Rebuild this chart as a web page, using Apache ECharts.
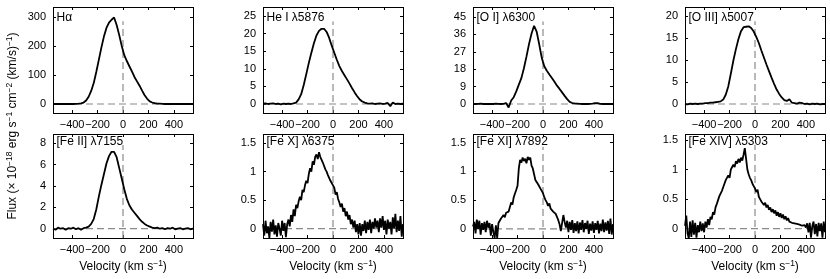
<!DOCTYPE html>
<html>
<head>
<meta charset="utf-8">
<script src="https://cdn.jsdelivr.net/npm/echarts@6/dist/echarts.min.js"></script>
<style>
html,body{margin:0;padding:0;background:#fff;}
#c{width:830px;height:279px;}
</style>
</head>
<body>
<div id="c"></div>
<script>
// ---------- data ----------
const velS = [-550,-530,-510,-490,-470,-450,-430,-410,-390,-370,-350,-330,-310,-290,-270,-250,-230,-210,-190,-170,-150,-130,-110,-90,-70,-50,-30,-10,10,30,50,70,90,110,130,150,170,190,210,230,250,270,290,310,330,350,370,390,410,430,450,470,490,510,530,550];
const velN = [-550,-540,-530,-520,-510,-500,-490,-480,-470,-460,-450,-440,-430,-420,-410,-400,-390,-380,-370,-360,-350,-340,-330,-320,-310,-300,-290,-280,-270,-260,-250,-240,-230,-220,-210,-200,-190,-180,-170,-160,-150,-140,-130,-120,-110,-100,-90,-80,-70,-60,-50,-40,-30,-20,-10,0,10,20,30,40,50,60,70,80,90,100,110,120,130,140,150,160,170,180,190,200,210,220,230,240,250,260,270,280,290,300,310,320,330,340,350,360,370,380,390,400,410,420,430,440,450,460,470,480,490,500,510,520,530,540,550];

const haFlux = [0,0,0,0,0,0,0,0,0,0.5,1,2,5,12,25,45,72,110,152,194,232,262,280,290,298,272,238,200,168,148,130,112,93,78,63,46,30,18,9,5,3,1.5,1,0.5,0,0,0,0,0,0,0,0,0,0,0,0];
const heIFlux = [0.1,0.2,0.0,0.1,0.2,0.0,0.1,-0.1,0.1,0.0,0.1,0.0,0.2,0.4,1.3,2.8,5.4,8.5,11.7,14.6,17.3,19.5,20.8,21.4,21.4,20.5,18.8,16.6,14.6,12.6,10.8,9.4,8.2,7.0,5.8,4.5,3.3,2.2,1.3,0.7,0.4,0.2,0.1,0.2,0.0,0.1,0.2,0.0,0.1,0.3,-0.6,0.4,0.0,0.1,0.0,0.1];
const oIFlux = [0.1,0,0.1,0.2,0,0.1,0,0.1,0,0.2,0.1,0,0.1,0.5,-1.8,1.8,3.5,6.5,10,13.4,18.5,24.5,31,36.5,40.5,37.5,31,24,19.5,17.2,15.3,13.5,11.5,9.5,7.8,6.0,4.2,2.5,1.1,0.5,0.3,0.2,0.1,0,0.1,0,0.1,0.2,0.5,0.4,0.1,0,0.1,0,0.1,0];
const oIIIFlux = [0,-0.1,0.1,0,0.1,0,0.1,0.1,0.2,0.2,0.3,0.3,0.4,0.5,0.6,1.0,2.1,4.0,6.9,9.9,12.5,14.8,16.6,17.5,17.6,17.7,17.3,16.5,15.3,13.9,12.2,10.6,9.0,7.5,6.0,4.6,3.3,2.3,1.5,0.9,0.7,1.1,0.3,0.2,0.1,0.3,0.2,0,0.1,-0.1,0.1,0,0.1,-0.1,0,0];
const feIIFlux = [0.0,-0.1,0.1,0.0,0.05,-0.1,0.05,0.0,0.1,-0.05,0.05,-0.1,0.05,0.1,0.2,0.45,0.9,1.8,3.0,4.1,5.1,6.1,6.8,7.2,7.2,6.7,5.7,4.7,3.7,2.8,2.2,1.8,1.5,1.2,0.9,0.65,0.45,0.3,0.2,0.1,0.05,0.1,0.0,0.05,-0.05,0.05,0.0,0.1,-0.05,0.0,0.05,-0.05,0.0,0.05,-0.05,0.0];
const feXFlux = [0.08,-0.12,0.14,-0.08,0.04,-0.16,0.12,-0.05,0.16,-0.10,
  0.06,-0.14,0.10,0.00,-0.12,0.14,-0.04,0.10,-0.15,0.08,
  0.16,0.04,0.24,0.12,0.34,0.22,0.42,0.36,0.48,0.56,
  0.50,0.68,0.64,0.76,0.84,0.80,0.96,1.06,1.00,1.18,
  1.12,1.26,1.30,1.22,1.34,1.26,1.28,1.16,1.14,1.04,
  1.00,0.94,0.96,0.84,0.86,0.76,0.72,0.60,0.64,0.52,
  0.46,0.38,0.44,0.30,0.36,0.22,0.30,0.16,0.24,0.08,
  0.16,0.02,0.14,-0.06,0.08,-0.10,0.10,-0.12,0.08,-0.04,
  0.14,-0.08,0.12,-0.02,0.16,-0.08,0.12,0.00,0.18,0.02,
  0.14,-0.06,0.18,0.02,0.22,-0.02,0.14,-0.10,0.16,0.00,
  0.12,-0.10,0.20,0.00,0.26,-0.06,0.14,-0.04,0.22,-0.14,0.08];
const feXIFlux = [0.04,0.12,-0.08,0.16,0.00,0.14,-0.10,0.10,-0.02,0.12,
  -0.06,0.14,0.02,0.10,-0.12,0.08,-0.06,-0.16,0.06,-0.16,
  0.10,0.08,0.18,0.15,0.24,0.20,0.28,0.25,0.30,0.38,
  0.46,0.42,0.55,0.58,0.68,0.75,1.05,1.20,1.15,1.24,
  1.18,1.22,1.14,1.25,1.20,1.24,1.10,1.05,0.95,0.85,
  0.82,0.78,0.74,0.70,0.66,0.62,0.55,0.50,0.46,0.40,
  0.44,0.35,0.38,0.30,0.33,0.26,0.28,0.15,0.08,-0.04,
  0.10,0.24,0.12,0.02,0.14,-0.06,0.12,-0.02,0.15,-0.07,
  0.10,-0.04,0.13,-0.08,0.11,-0.02,0.15,-0.06,0.10,0.00,
  0.14,-0.09,0.09,-0.03,0.13,-0.07,0.10,-0.02,0.14,-0.08,
  0.09,-0.04,0.16,-0.06,0.11,-0.03,0.14,-0.09,0.18,-0.10,0.08];
const feXIVFlux = [0.05,0.22,-0.08,-0.16,0.12,-0.14,0.14,-0.10,0.10,-0.15,
  0.06,-0.06,0.12,-0.04,0.09,-0.06,0.12,0.02,0.16,0.06,
  0.20,0.16,0.28,0.24,0.36,0.42,0.40,0.55,0.52,0.64,
  0.70,0.68,0.82,0.80,0.90,0.86,1.00,0.98,1.08,1.04,
  1.14,1.10,1.18,1.12,1.20,1.15,1.25,1.36,1.18,1.00,
  0.92,0.86,0.82,0.76,0.72,0.68,0.62,0.66,0.54,0.50,
  0.46,0.48,0.40,0.44,0.36,0.40,0.32,0.36,0.28,0.33,
  0.26,0.31,0.22,0.28,0.20,0.26,0.18,0.24,0.16,0.21,
  0.14,0.18,0.12,0.15,0.10,0.13,0.09,0.11,0.08,0.10,
  0.07,0.09,0.05,0.08,0.06,0.02,0.09,-0.06,0.10,-0.15,
  0.04,0.12,-0.09,0.08,-0.13,0.10,-0.04,0.09,-0.15,0.12,-0.06];

const panelLabels = ['H\u03b1','He I \u03bb5876','[O I] \u03bb6300','[O III] \u03bb5007','[Fe II] \u03bb7155','[Fe X] \u03bb6375','[Fe XI] \u03bb7892','[Fe XIV] \u03bb5303'];
const yMins = [-31,-2.56,-4.66,-2.05,-0.87,-0.163,-0.16,-0.157];
const yMaxs = [334,27.6,50.2,22.1,8.87,1.66,1.65,1.60];
const yTickValues = [[0,100,200,300],[0,5,10,15,20,25],[0,9,18,27,36,45],[0,5,10,15,20],[0,2,4,6,8],[0,0.5,1,1.5],[0,0.5,1,1.5],[0,0.5,1,1.5]];
const zeroLineTops = [285,23.5,42.7,18.85,7.84,1.44,1.43,1.42];
const xTickValues = [-400,-200,0,200,400];
const xRange = [-550,550];

const panels = [
  [velS, haFlux],[velS, heIFlux],[velS, oIFlux],[velS, oIIIFlux],
  [velS, feIIFlux],[velN, feXFlux],[velN, feXIFlux],[velN, feXIVFlux]
];

// ---------- layout ----------
const FONT = '"Liberation Sans", Arial, Helvetica, sans-serif';
const colLeft = [53, 263, 473, 685];
const gridW = 140;
const rowTop = [7, 134];
const rowH = [106, 104];
const labelDy = [10.5, 7.5];

const grids = [], xAxes = [], yAxes = [], series = [], graphics = [];
const minus = v => String(v).replace('-', '\u2212');

panels.forEach((p, i) => {
  const r = Math.floor(i / 4), c = i % 4;
  grids.push({left: colLeft[c], top: rowTop[r], width: gridW, height: rowH[r], containLabel: false});
  const noLine = {show: false, onZero: false};
  const xBase = {
    type: 'value', gridIndex: i, min: xRange[0], max: xRange[1],
    axisLine: noLine, splitLine: {show: false},
    axisTick: {show: true, inside: true, length: 3, customValues: xTickValues, lineStyle: {color: '#000', width: 1}}
  };
  const xb = Object.assign({}, xBase, {
    position: 'bottom',
    axisLabel: {show: true, customValues: xTickValues, formatter: minus, fontSize: 11, color: '#000', fontFamily: FONT, margin: 6}
  });
  if (r === 1) {
    Object.assign(xb, {
      name: '{n|Velocity (km s}{s|\u22121}{n|)}', nameLocation: 'middle', nameGap: 21,
      nameTextStyle: {fontSize: 12, color: '#000', fontFamily: FONT, rich: {
        n: {fontSize: 12, lineHeight: 15, color: '#000', fontFamily: FONT},
        s: {fontSize: 8.5, lineHeight: 8, verticalAlign: 'top', color: '#000', fontFamily: FONT}
      }}
    });
  }
  xAxes.push(xb);
  xAxes.push(Object.assign({}, xBase, {position: 'top', axisLabel: {show: false}}));
  const yBase = {
    type: 'value', gridIndex: i, min: yMins[i], max: yMaxs[i],
    axisLine: noLine, splitLine: {show: false},
    axisTick: {show: true, inside: true, length: 3, customValues: yTickValues[i], lineStyle: {color: '#000', width: 1}}
  };
  yAxes.push(Object.assign({}, yBase, {
    position: 'left',
    axisLabel: {show: true, customValues: yTickValues[i], fontSize: 11, color: '#000', fontFamily: FONT, margin: 7}
  }));
  yAxes.push(Object.assign({}, yBase, {position: 'right', axisLabel: {show: false}}));

  const xi = 2 * i, yi = 2 * i;
  const dashStyle = {color: '#8a8a8a', width: 1.2, type: [7, 4]};
  series.push({
    type: 'line', xAxisIndex: xi, yAxisIndex: yi, z: 1, silent: true, showSymbol: false,
    lineStyle: dashStyle, data: [[xRange[0], 0], [xRange[1], 0]], animation: false
  });
  series.push({
    type: 'line', xAxisIndex: xi, yAxisIndex: yi, z: 1, silent: true, showSymbol: false,
    lineStyle: dashStyle, data: [[0, yMins[i]], [0, zeroLineTops[i]]], animation: false
  });
  series.push({
    type: 'line', xAxisIndex: xi, yAxisIndex: yi, z: 3, silent: true, showSymbol: false,
    lineStyle: {color: '#000', width: 1.8}, data: p[0].map((v, k) => [v, p[1][k]]), animation: false
  });

  // panel frame as four thin filled bars
  const L = colLeft[c], T = rowTop[r], W = gridW, H = rowH[r];
  const bars = [
    {x: L, y: T, width: W + 1, height: 1},
    {x: L, y: T + H, width: W + 1, height: 1},
    {x: L, y: T, width: 1, height: H + 1},
    {x: L + W, y: T, width: 1, height: H + 1}
  ];
  bars.forEach(b => graphics.push({
    type: 'rect', z: 20, silent: true, shape: b, style: {fill: '#000'}
  }));
  graphics.push({
    type: 'text', x: L + 3.5, y: T + labelDy[r], z: 21,
    style: {text: panelLabels[i], fontSize: 12, fontFamily: FONT, fill: '#000', verticalAlign: 'middle', align: 'left'}
  });
});

graphics.push({
  type: 'text', x: 12.5, y: 126, rotation: Math.PI / 2, z: 21,
  style: {
    text: '{n|Flux (\u00d7 10}{s|\u221218}{n| erg s}{s|\u22121}{n| cm}{s|\u22122}{n| (km/s)}{s|\u22121}{n|)}',
    align: 'center', verticalAlign: 'middle', fill: '#000', fontSize: 12, fontFamily: FONT,
    rich: {
      n: {fontSize: 12, lineHeight: 15, fill: '#000', fontFamily: FONT},
      s: {fontSize: 8.5, lineHeight: 8, verticalAlign: 'top', fill: '#000', fontFamily: FONT}
    }
  }
});

const chart = echarts.init(document.getElementById('c'), null, {renderer: 'canvas'});
chart.setOption({
  backgroundColor: '#fff',
  animation: false,
  grid: grids, xAxis: xAxes, yAxis: yAxes, series: series, graphic: graphics
});
</script>
</body>
</html>
